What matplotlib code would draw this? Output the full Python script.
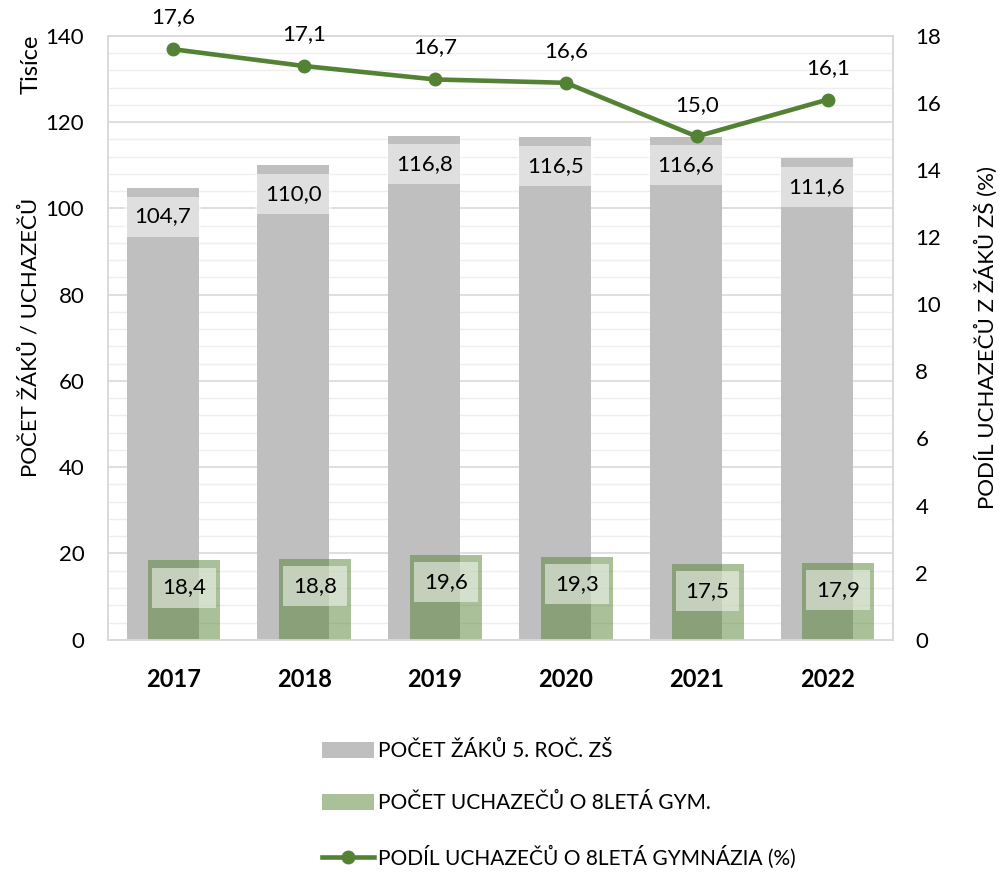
import matplotlib.pyplot as plt
import numpy as np
from matplotlib.ticker import MultipleLocator

plt.rcParams['font.family'] = ['Lato', 'DejaVu Sans']

years = ["2017", "2018", "2019", "2020", "2021", "2022"]
zaci = [104.7, 110.0, 116.8, 116.5, 116.6, 111.6]
uchazeci = [18.4, 18.8, 19.6, 19.3, 17.5, 17.9]
podil = [17.6, 17.1, 16.7, 16.6, 15.0, 16.1]

green = "#548235"
fmt = lambda v: f"{v:.1f}".replace(".", ",")

fig = plt.figure(figsize=(9.99, 8.74), dpi=100)
ax = fig.add_axes([0.108, 0.268, 0.786, 0.691])
ax2 = ax.twinx()

x = np.arange(len(years))
w = 0.55
off = 0.082

ax.bar(x - off, zaci, w, color="#bfbfbf", zorder=2, label="POČET ŽÁKŮ 5. ROČ. ZŠ")
ax.bar(x + off, uchazeci, w, color=green, alpha=0.5, zorder=3, label="POČET UCHAZEČŮ O 8LETÁ GYM.")

box = dict(boxstyle="square,pad=0.45", fc="white", ec="none", alpha=0.5)
for xi, v in zip(x, zaci):
    ax.text(xi - off, v - 6.6, fmt(v), ha="center", va="center", fontsize=16, bbox=box, zorder=4)
for xi, v in zip(x, uchazeci):
    ax.text(xi + off, v - 6.3, fmt(v), ha="center", va="center", fontsize=16, bbox=box, zorder=4)

ax.set_xlim(-0.5, len(years) - 0.5)
ax.set_ylim(0, 140)
ax.yaxis.set_major_locator(MultipleLocator(20))
ax.yaxis.set_minor_locator(MultipleLocator(4))
ax.grid(which="major", axis="y", color="#d9d9d9", lw=1.2, zorder=0)
ax.grid(which="minor", axis="y", color="#eeeeee", lw=1.0, zorder=0)
ax.set_axisbelow(True)
ax.set_xticks(x)
ax.set_xticklabels(years, fontsize=17, fontweight="bold")
ax.tick_params(axis="y", length=0, labelsize=16, pad=17)
ax.tick_params(axis="x", length=0, pad=20)
ax.tick_params(which="minor", length=0)
ax.set_ylabel("POČET ŽÁKŮ / UCHAZEČŮ", fontsize=16, labelpad=4)
fig.text(0.031, 0.926, "Tisíce", rotation=90, ha="center", va="center", fontsize=17)

ax2.plot(x, podil, color=green, lw=3.3, marker="o", ms=9, zorder=5,
         label="PODÍL UCHAZEČŮ O 8LETÁ GYMNÁZIA (%)")
for xi, v in zip(x, podil):
    ax2.text(xi, v + 0.95, fmt(v), ha="center", va="center", fontsize=16)
ax2.set_ylim(0, 18)
ax2.yaxis.set_major_locator(MultipleLocator(2))
ax2.tick_params(axis="y", length=0, labelsize=16, pad=16)
ax2.set_ylabel("PODÍL UCHAZEČŮ Z ŽÁKŮ ZŠ (%)", fontsize=16, labelpad=24)

for a in (ax, ax2):
    for s in a.spines.values():
        s.set_color("#d9d9d9")
        s.set_linewidth(1.2)

h1, l1 = ax.get_legend_handles_labels()
h2, l2 = ax2.get_legend_handles_labels()
fig.legend(h1 + h2, l1 + l2, loc="upper left", bbox_to_anchor=(0.314, 0.162),
           frameon=False, fontsize=15, handlelength=2.5, handleheight=0.8,
           handletextpad=0.2, labelspacing=1.55, borderaxespad=0)

fig.savefig("out.png", dpi=100)
